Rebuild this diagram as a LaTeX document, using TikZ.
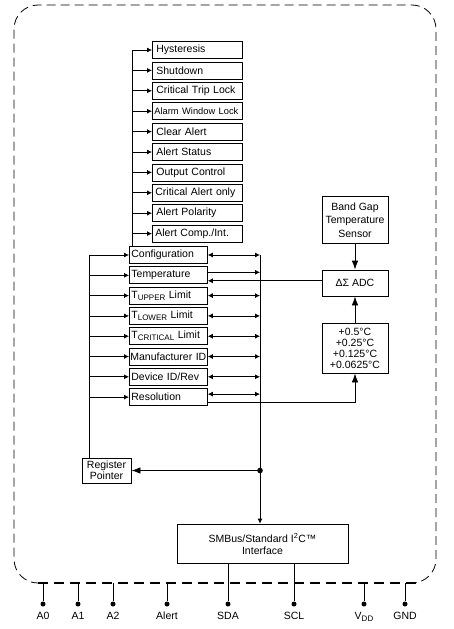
\documentclass[tikz,border=0pt]{standalone}
\usepackage{fontspec}
\setmainfont{Liberation Sans}
\usetikzlibrary{arrows.meta,positioning}

\newcommand{\lowsub}[1]{\raisebox{-0.35ex}{\fontsize{8}{9}\selectfont #1}}

\tikzset{
    every node/.style={font=\fontsize{10.5}{12}\selectfont},
    bitbox/.style={draw, anchor=west, minimum height=17pt, text width=82pt, inner xsep=4pt, inner ysep=0pt, align=left},
    regbox/.style={draw, anchor=west, minimum height=17pt, text width=74pt, inner xsep=2pt, inner ysep=0pt, align=left},
    block/.style={draw, align=center, inner sep=0pt},
    arr/.style={-{Latex[length=5pt,width=5pt]}},
    darr/.style={{Latex[length=5pt,width=5pt]}-{Latex[length=5pt,width=5pt]}},
    bigarr/.style={-{Latex[length=9pt,width=6.5pt]}},
    pindot/.style={circle, fill, inner sep=0pt, minimum size=5pt},
    pinlabel/.style={inner sep=0pt, below=5pt of #1},
}

\begin{document}
\begin{tikzpicture}[x=1pt, y=-1pt, line width=0.8pt]
            \useasboundingbox (0,0) rectangle (453,629);

            % package outline
            \draw[rounded corners=24pt, dash pattern=on 9pt off 5pt] (40,583) -| (14,5) -| (436,583) -- (414,583);
            \draw[line width=1.8pt, dash pattern=on 10pt off 6pt] (38,583) -- (418,583);

            % configuration bits
            \node[bitbox] (bHyst)   at (152,50.0)  {Hysteresis};
            \node[bitbox] (bShut)   at (152,70.4)  {Shutdown};
            \node[bitbox] (bTrip)   at (152,90.8)  {Critical Trip Lock};
            \node[bitbox, inner xsep=2pt, text width=86pt] (bAlarm) at (152,111.2) {\mbox{\fontsize{9.3}{11}\selectfont Alarm Window Lock}};
            \node[bitbox] (bClear)  at (152,131.6) {Clear Alert};
            \node[bitbox] (bStatus) at (152,152.0) {Alert Status};
            \node[bitbox] (bOutput) at (152,172.4) {Output Control};
            \node[bitbox, inner xsep=3pt, text width=84pt] (bCrit) at (152,192.8) {\mbox{Critical Alert only}};
            \node[bitbox] (bPol)    at (152,213.2) {Alert Polarity};
            \node[bitbox, inner xsep=3pt, text width=84pt] (bComp) at (152,233.6) {Alert Comp./Int.};

            % registers
            \node[regbox] (rCfg)  at (129,255.0) {Configuration};
            \node[regbox] (rTemp) at (129,275.3) {Temperature};
            \node[regbox] (rUp)   at (129,295.6) {T\lowsub{UPPER} Limit};
            \node[regbox] (rLow)  at (129,315.9) {T\lowsub{LOWER} Limit};
            \node[regbox] (rCrit) at (129,336.2) {T\lowsub{CRITICAL} Limit};
            \node[regbox, inner xsep=1pt, text width=76pt] (rMan) at (129,356.5) {\mbox{Manufacturer ID}};
            \node[regbox] (rDev)  at (129,376.8) {Device ID/Rev};
            \node[regbox] (rRes)  at (129,397.1) {Resolution};

            % other blocks
            \node[block, minimum width=66pt, minimum height=47pt, font=\fontsize{10.5}{13.5}\selectfont] (bandgap) at (355,220) {Band Gap\\Temperature\\Sensor};
            \node[block, minimum width=66pt, minimum height=26pt] (adc) at (355,283) {ΔΣ ADC};
            \node[block, minimum width=66pt, minimum height=50pt, font=\fontsize{10.5}{11}\selectfont] (steps) at (355,348) {+0.5°C\\+0.25°C\\+0.125°C\\+0.0625°C};
            \node[block, minimum width=49pt, minimum height=25pt, font=\fontsize{10.5}{11}\selectfont] (rp) at (106.5,470.5) {Register\\Pointer};
            \node[block, minimum width=171pt, minimum height=39pt] (smb) at (262.5,543.5) {SMBus/Standard I\textsuperscript{2}C™\\Interface};

            % configuration bit bus
            \coordinate (cbus) at (132,50);
            \draw (cbus) -- (cbus |- rCfg.north);
            \draw[arr] (cbus |- bHyst)   -- (bHyst.west);
            \draw[arr] (cbus |- bShut)   -- (bShut.west);
            \draw[arr] (cbus |- bTrip)   -- (bTrip.west);
            \draw[arr] (cbus |- bAlarm)  -- (bAlarm.west);
            \draw[arr] (cbus |- bClear)  -- (bClear.west);
            \draw[arr] (cbus |- bStatus) -- (bStatus.west);
            \draw[arr] (cbus |- bOutput) -- (bOutput.west);
            \draw[arr] (cbus |- bCrit)   -- (bCrit.west);
            \draw[arr] (cbus |- bPol)    -- (bPol.west);
            \draw[arr] (cbus |- bComp)   -- (bComp.west);

            % pointer bus
            \coordinate (lbus) at (89,255);
            \draw (lbus) -- (lbus |- rp.north);
            \draw[arr] (lbus |- rCfg)  -- (rCfg.west);
            \draw[arr] (lbus |- rTemp) -- (rTemp.west);
            \draw[arr] (lbus |- rUp)   -- (rUp.west);
            \draw[arr] (lbus |- rLow)  -- (rLow.west);
            \draw[arr] (lbus |- rCrit) -- (rCrit.west);
            \draw[arr] (lbus |- rMan)  -- (rMan.west);
            \draw[arr] (lbus |- rDev)  -- (rDev.west);
            \draw[arr] (lbus |- rRes)  -- (rRes.west);

            % data bus
            \coordinate (rbus) at (260,255);
            \draw[arr] (rbus) -- (rbus |- smb.north);
            \draw[darr] (rCfg.east) -- (rCfg -| rbus);
            \draw[arr] ([yshift=3pt]rTemp.east) -- ([yshift=3pt]rTemp.east -| rbus);
            \draw[darr] (rUp.east)   -- (rUp -| rbus);
            \draw[darr] (rLow.east)  -- (rLow -| rbus);
            \draw[darr] (rCrit.east) -- (rCrit -| rbus);
            \draw[darr] (rMan.east)  -- (rMan -| rbus);
            \draw[darr] (rDev.east)  -- (rDev -| rbus);
            \draw[darr] ([yshift=3pt]rRes.east) -- ([yshift=3pt]rRes.east -| rbus);
            \fill (rbus |- rp) circle (2.8pt) coordinate (junc);
            \draw[bigarr] (junc) -- (rp.east);

            % sensor path
            \draw[bigarr] (bandgap) -- (adc);
            \draw[bigarr] (steps) -- (adc);
            \draw[arr] ([yshift=-5.5pt]rTemp.east -| adc.west) -- ([yshift=-5.5pt]rTemp.east);
            \draw[bigarr] ([yshift=-5.5pt]rRes.east) -| (steps.south);

            % pins
            \coordinate (tA0) at (43,583);
            \coordinate (tA1) at (78,583);
            \coordinate (tA2) at (113,583);
            \coordinate (tAlert) at (167,583);
            \coordinate (tVdd) at (364,583);
            \coordinate (tGnd) at (405,583);
            \node[pindot] (pA0) at (43,604) {};
            \node[pindot] (pA1) at (78,604) {};
            \node[pindot] (pA2) at (113,604) {};
            \node[pindot] (pAlert) at (167,604) {};
            \node[pindot] (pSda) at (228,604) {};
            \node[pindot] (pScl) at (294,604) {};
            \node[pindot] (pVdd) at (364,604) {};
            \node[pindot] (pGnd) at (405,604) {};
            \draw (tA0) -- (pA0);
            \draw (tA1) -- (pA1);
            \draw (tA2) -- (pA2);
            \draw (tAlert) -- (pAlert);
            \draw (pSda |- smb.south) -- (pSda);
            \draw (pScl |- smb.south) -- (pScl);
            \draw (tVdd) -- (pVdd);
            \draw (tGnd) -- (pGnd);
            \node[pinlabel=pA0] (lA0) {A0};
            \node[pinlabel=pA1] (lA1) {A1};
            \node[pinlabel=pA2] (lA2) {A2};
            \node[pinlabel=pAlert] (lAlert) {Alert};
            \node[pinlabel=pSda] (lSda) {SDA};
            \node[pinlabel=pScl] (lScl) {SCL};
            \node[pinlabel=pVdd] (lVdd) {V\lowsub{DD}};
            \node[pinlabel=pGnd] (lGnd) {GND};
        \end{tikzpicture}
\end{document}
